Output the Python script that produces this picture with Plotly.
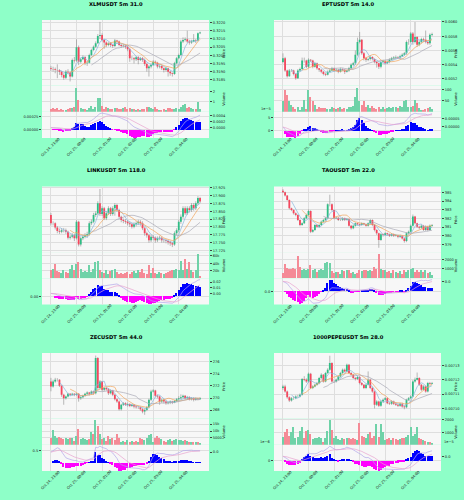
import plotly.graph_objects as go
import pandas as pd
import numpy as np

W, H = 464, 500
FIG_BG = '#8effc8'
PLOT_BG = '#f7f7f7'
GRID = '#dedede'
UP, DOWN = '#2ebd85', '#f6465d'
UP_V, DOWN_V = '#6fd2a8', '#f58a96'
WICK = '#8c8c8c'
MA_COLORS = ['#86b6dc', '#f2a55a', '#a9a9b6']
MACD_COLORS = ['#b3a6ea', '#e8a2cf']
HIST_POS, HIST_NEG = '#0000ff', '#ff00ff'

tick_idx = [0, 12, 24, 36, 48, 60]
tick_text = ["Oct 24, 23:00", "Oct 25, 00:00", "Oct 25, 01:00",
             "Oct 25, 02:00", "Oct 25, 03:00", "Oct 25, 04:00"]
ma_windows = [5, 10, 20]

# ---------------- XLMUSDT ----------------
xlm_title = "XLMUSDT 5m 31.0"
xlm_open0 = 0.31920
xlm_close = [0.31916, 0.31914, 0.31910, 0.31908, 0.31900, 0.31880, 0.31863, 0.31900, 0.31895, 0.31870,
             0.31972, 0.31968, 0.32049, 0.31961, 0.31976, 0.31990, 0.31951, 0.31955, 0.32002, 0.32033,
             0.32053, 0.32074, 0.32118, 0.32125, 0.32094, 0.32078, 0.32063, 0.32074, 0.32063, 0.32057,
             0.32090, 0.32084, 0.32063, 0.32057, 0.32059, 0.32053, 0.32037, 0.31982, 0.31982, 0.31976,
             0.31988, 0.31972, 0.31982, 0.31972, 0.31947, 0.31921, 0.31931, 0.31941, 0.31961, 0.31955,
             0.31931, 0.31935, 0.31921, 0.31910, 0.31921, 0.31900, 0.31890, 0.31886, 0.31951, 0.31982,
             0.32002, 0.32084, 0.32094, 0.32098, 0.32084, 0.32078, 0.32084, 0.32094, 0.32090, 0.32135, 0.32139]
xlm_high = [0.31935, 0.31930, 0.31925, 0.31945, 0.31915, 0.31905, 0.31890, 0.31910, 0.31915, 0.31900,
            0.31980, 0.31990, 0.32098, 0.32060, 0.31985, 0.32000, 0.31995, 0.31965, 0.32010, 0.32040,
            0.32060, 0.32085, 0.32130, 0.32205, 0.32135, 0.32100, 0.32085, 0.32080, 0.32080, 0.32070,
            0.32100, 0.32095, 0.32090, 0.32070, 0.32068, 0.32065, 0.32060, 0.32045, 0.31995, 0.31990,
            0.31995, 0.31995, 0.31990, 0.31990, 0.31980, 0.31955, 0.31940, 0.31950, 0.31970, 0.31968,
            0.31960, 0.31945, 0.31940, 0.31925, 0.31930, 0.31925, 0.31905, 0.31895, 0.31960, 0.31990,
            0.32010, 0.32095, 0.32110, 0.32110, 0.32151, 0.32095, 0.32095, 0.32130, 0.32100, 0.32140, 0.32145]
xlm_low = [0.31905, 0.31900, 0.31890, 0.31860, 0.31880, 0.31865, 0.31850, 0.31855, 0.31885, 0.31840,
           0.31865, 0.31955, 0.31960, 0.31940, 0.31950, 0.31970, 0.31940, 0.31935, 0.31950, 0.31995,
           0.32025, 0.32045, 0.32070, 0.32100, 0.32085, 0.32040, 0.32050, 0.32055, 0.32050, 0.32045,
           0.32050, 0.32070, 0.32055, 0.32045, 0.32048, 0.32040, 0.32025, 0.31960, 0.31970, 0.31950,
           0.31965, 0.31945, 0.31965, 0.31960, 0.31935, 0.31900, 0.31870, 0.31920, 0.31935, 0.31945,
           0.31920, 0.31920, 0.31910, 0.31895, 0.31900, 0.31870, 0.31875, 0.31870, 0.31880, 0.31945,
           0.31975, 0.31995, 0.32075, 0.32085, 0.32075, 0.32065, 0.32070, 0.32080, 0.32075, 0.32085, 0.32130]
xlm_vol = [0.35, 0.4, 0.3, 0.45, 0.25, 0.3, 0.2, 0.25, 0.35, 0.4,
           0.45, 0.5, 2.35, 1.2, 0.4, 0.35, 0.3, 0.25, 0.4, 0.6,
           0.3, 0.5, 1.35, 1.35, 0.6, 0.35, 0.5, 0.4, 0.3, 0.35,
           0.4, 0.45, 0.35, 0.3, 0.4, 0.5, 0.35, 0.45, 0.3, 0.35,
           0.25, 0.3, 0.25, 0.3, 0.35, 0.5, 0.55, 0.4, 0.3, 0.5,
           0.35, 0.25, 0.2, 0.3, 0.25, 0.4, 0.45, 0.3, 0.35, 0.45,
           0.3, 0.55, 0.7, 0.8, 0.4, 0.5, 0.4, 0.35, 0.3, 1.0, 0.3]
xlm_price_ticks = [0.3185, 0.3190, 0.3195, 0.3200, 0.3205, 0.3210, 0.3215, 0.3220]
xlm_price_labels = ["0.3185", "0.3190", "0.3195", "0.3200", "0.3205", "0.3210", "0.3215", "0.3220"]
xlm_price_range = [0.318144, 0.322163]
xlm_vol_ticks = [1, 2]
xlm_vol_range = [0, 2.55]
xlm_hist_ticks = [-0.00025, 0.0, 0.00025]
xlm_hist_labels = ["\u22120.00025", "0.00000", "0.00025"]
xlm_line_ticks = [0.0, 0.0002, 0.0004]
xlm_line_labels = ["0.0000", "0.0002", "0.0004"]

# ---------------- EPTUSDT ----------------
ept_title = "EPTUSDT 5m 14.0"
ept_open0 = 0.00544
ept_close = [0.00549, 0.00532, 0.00524, 0.00532, 0.00532, 0.00527, 0.00521, 0.00532, 0.00534, 0.00546,
             0.00546, 0.00537, 0.00547, 0.00546, 0.00537, 0.00542, 0.00535, 0.00533, 0.00530, 0.00527,
             0.00526, 0.00530, 0.00532, 0.00535, 0.00532, 0.00533, 0.00530, 0.00534, 0.00533, 0.00530,
             0.00532, 0.00535, 0.00540, 0.00542, 0.00554, 0.00572, 0.00575, 0.00556, 0.00549, 0.00547,
             0.00548, 0.00551, 0.00548, 0.00544, 0.00542, 0.00537, 0.00544, 0.00545, 0.00542, 0.00544,
             0.00547, 0.00549, 0.00550, 0.00551, 0.00550, 0.00552, 0.00554, 0.00556, 0.00572, 0.00572,
             0.00584, 0.00572, 0.00579, 0.00568, 0.00572, 0.00576, 0.00575, 0.00572, 0.00570, 0.00582, 0.00583]
ept_high = [0.00556, 0.00551, 0.00533, 0.00534, 0.00534, 0.00533, 0.00528, 0.00534, 0.00536, 0.00550,
            0.00550, 0.00547, 0.00549, 0.00548, 0.00547, 0.00544, 0.00543, 0.00535, 0.00534, 0.00531,
            0.00529, 0.00532, 0.00534, 0.00537, 0.00536, 0.00535, 0.00534, 0.00536, 0.00535, 0.00534,
            0.00533, 0.00537, 0.00542, 0.00544, 0.00560, 0.00578, 0.00586, 0.00576, 0.00558, 0.00551,
            0.00550, 0.00553, 0.00552, 0.00549, 0.00545, 0.00543, 0.00546, 0.00547, 0.00546, 0.00546,
            0.00549, 0.00551, 0.00552, 0.00553, 0.00552, 0.00554, 0.00556, 0.00558, 0.00574, 0.00576,
            0.00586, 0.00586, 0.00600, 0.00580, 0.00574, 0.00578, 0.00578, 0.00588, 0.00574, 0.00584, 0.00585]
ept_low = [0.00542, 0.00530, 0.00522, 0.00523, 0.00530, 0.00525, 0.00519, 0.00520, 0.00530, 0.00532,
           0.00543, 0.00535, 0.00535, 0.00544, 0.00535, 0.00536, 0.00533, 0.00530, 0.00528, 0.00525,
           0.00524, 0.00525, 0.00529, 0.00531, 0.00530, 0.00530, 0.00528, 0.00529, 0.00531, 0.00527,
           0.00529, 0.00530, 0.00534, 0.00538, 0.00540, 0.00552, 0.00570, 0.00554, 0.00546, 0.00544,
           0.00545, 0.00546, 0.00546, 0.00542, 0.00536, 0.00534, 0.00535, 0.00542, 0.00540, 0.00541,
           0.00542, 0.00546, 0.00547, 0.00548, 0.00548, 0.00548, 0.00551, 0.00553, 0.00554, 0.00568,
           0.00570, 0.00568, 0.00570, 0.00565, 0.00566, 0.00570, 0.00572, 0.00570, 0.00568, 0.00568, 0.00580]
ept_vol = [50, 97, 77, 50, 34, 22, 16, 22, 11, 22,
           55, 16, 97, 66, 50, 34, 16, 22, 19, 20,
           19, 16, 16, 22, 19, 16, 19, 22, 16, 19,
           16, 22, 22, 27, 66, 109, 50, 34, 50, 22,
           31, 19, 27, 19, 16, 22, 16, 22, 16, 19,
           22, 19, 22, 22, 19, 27, 22, 50, 56, 22,
           22, 27, 56, 42, 19, 11, 11, 16, 19, 22, 16]
ept_price_ticks = [0.0052, 0.0054, 0.0056, 0.0058, 0.0060]
ept_price_labels = ["0.0052", "0.0054", "0.0056", "0.0058", "0.0060"]
ept_price_range = [0.005107, 0.006028]
ept_vol_ticks = [50, 100]
ept_vol_range = [0, 117]
ept_hist_ticks = [-0.00005, 0.0, 0.00005]
ept_hist_labels = ["\u22125", "0", "5"]
ept_line_ticks = [0.0, 0.00005, 0.0001]
ept_line_labels = ["0.00000", "0.00005", "0.00010"]

# ---------------- LINKUSDT ----------------
link_title = "LINKUSDT 5m 118.0"
link_open0 = 17.838
link_close = [17.812, 17.812, 17.798, 17.787, 17.785, 17.790, 17.790, 17.785, 17.766, 17.769,
              17.774, 17.764, 17.817, 17.744, 17.764, 17.769, 17.774, 17.777, 17.812, 17.817,
              17.838, 17.843, 17.876, 17.841, 17.860, 17.828, 17.844, 17.860, 17.841, 17.860,
              17.870, 17.854, 17.833, 17.822, 17.819, 17.817, 17.812, 17.809, 17.801, 17.809,
              17.812, 17.817, 17.812, 17.796, 17.780, 17.774, 17.758, 17.769, 17.766, 17.758,
              17.764, 17.766, 17.758, 17.758, 17.755, 17.751, 17.748, 17.744, 17.780, 17.790,
              17.817, 17.833, 17.860, 17.844, 17.860, 17.854, 17.870, 17.860, 17.876, 17.892, 17.881]
link_high = [17.845, 17.818, 17.815, 17.803, 17.795, 17.796, 17.797, 17.795, 17.788, 17.775,
             17.780, 17.778, 17.822, 17.820, 17.770, 17.775, 17.780, 17.785, 17.818, 17.824,
             17.845, 17.850, 17.882, 17.921, 17.866, 17.864, 17.850, 17.866, 17.864, 17.866,
             17.876, 17.874, 17.858, 17.836, 17.827, 17.825, 17.822, 17.818, 17.814, 17.815,
             17.818, 17.823, 17.822, 17.818, 17.800, 17.785, 17.778, 17.775, 17.774, 17.770,
             17.770, 17.772, 17.770, 17.764, 17.762, 17.760, 17.756, 17.752, 17.786, 17.796,
             17.823, 17.840, 17.866, 17.866, 17.866, 17.866, 17.876, 17.876, 17.882, 17.898, 17.896]
link_low = [17.805, 17.805, 17.792, 17.780, 17.778, 17.780, 17.783, 17.778, 17.760, 17.760,
            17.764, 17.755, 17.760, 17.738, 17.738, 17.758, 17.764, 17.768, 17.772, 17.806,
            17.812, 17.832, 17.838, 17.835, 17.835, 17.822, 17.822, 17.838, 17.835, 17.836,
            17.836, 17.848, 17.826, 17.815, 17.812, 17.810, 17.805, 17.800, 17.795, 17.796,
            17.802, 17.806, 17.804, 17.790, 17.772, 17.766, 17.750, 17.752, 17.758, 17.750,
            17.752, 17.758, 17.750, 17.750, 17.748, 17.744, 17.740, 17.736, 17.740, 17.774,
            17.784, 17.810, 17.826, 17.838, 17.838, 17.846, 17.848, 17.852, 17.854, 17.870, 17.876]
link_vol = [21000, 25500, 39000, 18000, 16000, 14500, 21000, 16000, 14500, 25500,
            34500, 21000, 39000, 43500, 25500, 16000, 18000, 16000, 34500, 16000,
            25500, 42000, 45500, 21000, 16000, 14500, 21000, 12000, 18000, 21000,
            23500, 16000, 12000, 14500, 12000, 14500, 16000, 12000, 16000, 18000,
            14500, 21000, 16000, 25500, 14500, 12000, 34500, 14500, 27000, 14500,
            12000, 16000, 14500, 12000, 14500, 16000, 18000, 21000, 21000, 23500,
            21000, 45500, 21000, 52500, 25500, 42000, 21000, 16000, 21000, 64500, 5500]
link_price_ticks = [17.725, 17.750, 17.775, 17.800, 17.825, 17.850, 17.875, 17.900, 17.925]
link_price_labels = ["17.725", "17.750", "17.775", "17.800", "17.825", "17.850", "17.875", "17.900", "17.925"]
link_price_range = [17.720, 17.929]
link_vol_ticks = [20000, 40000, 60000]
link_vol_range = [0, 70000]
link_hist_ticks = [-0.02, 0.0, 0.02]
link_hist_labels = ["\u22120.02", "0.00", "0.02"]
link_line_ticks = [0.0, 0.01, 0.02]
link_line_labels = ["0.00", "0.01", "0.02"]

# ---------------- TAOUSDT ----------------
tao_title = "TAOUSDT 5m 22.0"
tao_open0 = 385.20
tao_close = [385.04, 384.65, 384.15, 383.18, 382.98, 382.60, 382.40, 381.82, 381.24, 381.43,
             382.02, 382.40, 382.87, 380.47, 380.66, 381.24, 381.05, 381.24, 381.63, 381.82,
             382.02, 383.64, 383.64, 382.98, 382.02, 382.09, 381.82, 381.82, 382.02, 381.82,
             381.94, 381.16, 380.85, 381.16, 381.43, 381.32, 381.24, 381.43, 381.32, 381.16,
             381.43, 381.82, 381.24, 380.66, 380.27, 379.50, 380.16, 380.08, 380.27, 380.16,
             380.00, 380.16, 380.00, 380.08, 379.88, 380.00, 379.69, 379.38, 380.27, 380.47,
             381.16, 382.21, 381.43, 381.05, 380.93, 381.16, 380.66, 381.05, 380.66, 381.16, 381.24]
tao_high = [385.40, 385.10, 384.70, 384.20, 383.25, 383.05, 382.70, 382.50, 381.90, 381.55,
            382.15, 382.55, 383.05, 382.95, 380.80, 381.35, 381.35, 381.35, 381.75, 381.95,
            382.15, 383.75, 384.75, 383.75, 383.05, 382.20, 382.15, 381.95, 382.15, 382.10,
            382.05, 382.00, 381.25, 381.30, 381.55, 381.50, 381.40, 381.55, 381.50, 381.40,
            381.55, 381.95, 381.90, 381.35, 380.75, 380.35, 380.30, 380.25, 380.40, 380.35,
            380.25, 380.30, 380.25, 380.20, 380.15, 380.10, 380.05, 379.75, 380.40, 380.60,
            381.30, 382.45, 382.30, 381.50, 381.15, 381.30, 381.25, 381.20, 381.15, 381.30, 381.35]
tao_low = [384.95, 384.55, 384.05, 383.05, 382.85, 382.45, 382.25, 381.70, 381.10, 381.15,
           381.35, 381.90, 382.30, 380.30, 380.35, 380.55, 380.95, 380.95, 381.10, 381.55,
           381.70, 381.90, 383.40, 382.85, 381.90, 381.90, 381.70, 381.70, 381.70, 381.70,
           381.75, 381.05, 380.70, 380.75, 381.05, 381.20, 381.10, 381.15, 381.20, 381.05,
           381.05, 381.30, 381.10, 380.50, 380.10, 378.60, 379.40, 379.90, 379.95, 380.00,
           379.85, 379.90, 379.85, 379.90, 379.70, 379.75, 379.55, 379.20, 379.25, 380.10,
           380.35, 381.05, 381.30, 380.90, 380.75, 380.80, 380.55, 380.55, 380.50, 380.55, 381.05]
tao_vol = [570, 1540, 1070, 1000, 930, 1070, 1000, 2320, 1180, 820,
           930, 820, 930, 1430, 820, 1000, 640, 820, 1000, 820,
           1640, 1710, 1640, 710, 570, 640, 640, 460, 820, 710,
           820, 820, 570, 640, 460, 570, 820, 710, 820, 820,
           710, 820, 710, 1180, 1000, 2570, 1000, 820, 820, 640,
           710, 570, 820, 640, 570, 710, 460, 820, 640, 820,
           930, 1070, 640, 820, 640, 820, 640, 820, 570, 640, 290]
tao_price_ticks = [379, 380, 381, 382, 383, 384, 385]
tao_price_labels = ["379", "380", "381", "382", "383", "384", "385"]
tao_price_range = [378.10, 385.70]
tao_vol_ticks = [1000, 2000]
tao_vol_range = [0, 2750]
tao_hist_ticks = [-0.5, 0.0, 0.5]
tao_hist_labels = ["\u22120.5", "0.0", "0.5"]
tao_line_ticks = [0.0, 0.5]
tao_line_labels = ["0.0", "0.5"]

# ---------------- ZECUSDT ----------------
zec_title = "ZECUSDT 5m 44.0"
zec_open0 = 272.71
zec_close = [271.89, 272.71, 272.99, 272.99, 272.00, 270.52, 269.97, 270.25, 270.68, 270.52,
             270.68, 270.52, 270.68, 269.97, 270.14, 270.36, 270.68, 270.90, 270.68, 271.07,
             270.79, 276.55, 271.62, 272.71, 271.34, 271.62, 271.45, 270.79, 271.23, 270.52,
             269.81, 269.42, 268.16, 268.88, 269.15, 268.88, 269.04, 268.71, 268.88, 268.60,
             268.49, 268.49, 268.16, 267.78, 268.05, 268.49, 269.70, 271.07, 271.23, 270.36,
             270.25, 269.42, 269.70, 269.42, 269.15, 269.26, 269.42, 269.26, 269.53, 269.81,
             269.97, 270.14, 270.36, 269.97, 270.14, 269.81, 269.97, 269.70, 269.92, 269.81, 269.97]
zec_high = [273.30, 273.00, 273.30, 273.25, 273.10, 272.10, 270.70, 270.40, 270.85, 270.80,
            270.85, 270.80, 270.85, 270.80, 270.30, 270.55, 270.85, 271.10, 271.00, 271.25,
            271.20, 276.95, 276.70, 272.95, 272.80, 271.85, 271.75, 271.60, 271.40, 271.35,
            270.70, 269.95, 269.60, 269.05, 269.35, 269.30, 269.25, 269.15, 269.05, 268.95,
            268.75, 268.70, 268.60, 268.35, 268.25, 268.70, 269.90, 271.35, 271.45, 271.35,
            270.55, 270.40, 269.90, 269.85, 269.60, 269.45, 269.60, 269.55, 269.70, 270.00,
            270.30, 270.60, 270.55, 270.50, 270.35, 270.30, 270.15, 270.15, 270.10, 270.05, 270.15]
zec_low = [271.10, 271.70, 272.50, 272.70, 271.80, 270.20, 268.90, 269.75, 270.10, 270.30,
           270.40, 270.30, 270.35, 269.40, 269.70, 269.95, 270.20, 270.55, 270.40, 270.50,
           270.55, 270.60, 271.30, 271.40, 271.10, 271.10, 271.20, 270.50, 270.60, 270.30,
           269.60, 269.20, 267.95, 267.95, 268.70, 268.70, 268.60, 268.50, 268.55, 268.30,
           268.25, 268.20, 267.90, 267.50, 267.25, 267.85, 268.30, 269.50, 270.90, 270.10,
           269.95, 268.90, 269.20, 269.10, 268.90, 268.95, 269.00, 269.00, 269.15, 269.35,
           269.60, 269.80, 270.00, 269.75, 269.75, 269.60, 269.60, 269.45, 269.55, 269.60, 269.70]
zec_vol = [5500, 11000, 6750, 5500, 6000, 5000, 4250, 5000, 4250, 5000,
           5500, 3000, 6750, 11750, 4250, 5000, 4250, 3500, 4250, 9250,
           8000, 18000, 14250, 8000, 4250, 5000, 3000, 6750, 4250, 5000,
           3500, 8000, 5000, 2500, 3000, 2500, 3500, 2500, 3000, 2500,
           3000, 2500, 5500, 4250, 3500, 5000, 7500, 8000, 2500, 5000,
           6750, 5000, 4250, 3000, 2500, 3500, 4250, 3000, 3500, 4250,
           3500, 3500, 3000, 4000, 3000, 2500, 2500, 2500, 2500, 2000, 1750]
zec_price_ticks = [268, 270, 272, 274, 276]
zec_price_labels = ["268", "270", "272", "274", "276"]
zec_price_range = [266.63, 277.37]
zec_vol_ticks = [5000, 10000, 15000]
zec_vol_range = [0, 19000]
zec_hist_ticks = [-0.5, 0.5]
zec_hist_labels = ["\u22120.5", "0.5"]
zec_line_ticks = [0.0, 0.5, 1.0]
zec_line_labels = ["0.0", "0.5", "1.0"]

# ---------------- 1000PEPEUSDT ----------------
pepe_title = "1000PEPEUSDT 5m 28.0"
pepe_open0 = 0.0071142
pepe_close = [0.0071154, 0.0071119, 0.0071079, 0.0071056, 0.0071072, 0.0071072, 0.0071084, 0.0071084, 0.0071095, 0.0071205,
              0.0071200, 0.0071188, 0.0071242, 0.0071142, 0.0071154, 0.0071165, 0.0071177, 0.0071212, 0.0071235, 0.0071188,
              0.0071247, 0.0071270, 0.0071316, 0.0071188, 0.0071188, 0.0071200, 0.0071223, 0.0071247, 0.0071270, 0.0071258,
              0.0071305, 0.0071247, 0.0071235, 0.0071212, 0.0071205, 0.0071219, 0.0071177, 0.0071165, 0.0071142, 0.0071165,
              0.0071200, 0.0071142, 0.0071119, 0.0071026, 0.0071049, 0.0071019, 0.0071049, 0.0071061, 0.0071072, 0.0071037,
              0.0071033, 0.0071049, 0.0071033, 0.0071026, 0.0071019, 0.0071033, 0.0071014, 0.0071009, 0.0071061, 0.0071072,
              0.0071084, 0.0071188, 0.0071200, 0.0071212, 0.0071165, 0.0071130, 0.0071154, 0.0071119, 0.0071177, 0.0071172, 0.0071177]
pepe_high = [0.0071165, 0.0071165, 0.0071125, 0.0071085, 0.0071080, 0.0071085, 0.0071092, 0.0071095, 0.0071105, 0.0071212,
             0.0071225, 0.0071210, 0.0071250, 0.0071248, 0.0071162, 0.0071172, 0.0071185, 0.0071220, 0.0071245, 0.0071240,
             0.0071255, 0.0071280, 0.0071367, 0.0071322, 0.0071198, 0.0071208, 0.0071230, 0.0071255, 0.0071278, 0.0071278,
             0.0071312, 0.0071310, 0.0071255, 0.0071240, 0.0071220, 0.0071228, 0.0071225, 0.0071185, 0.0071170, 0.0071172,
             0.0071258, 0.0071208, 0.0071150, 0.0071125, 0.0071058, 0.0071055, 0.0071058, 0.0071070, 0.0071080, 0.0071078,
             0.0071045, 0.0071058, 0.0071055, 0.0071040, 0.0071032, 0.0071040, 0.0071040, 0.0071020, 0.0071068, 0.0071080,
             0.0071092, 0.0071198, 0.0071215, 0.0071250, 0.0071218, 0.0071172, 0.0071162, 0.0071160, 0.0071185, 0.0071185, 0.0071185]
pepe_low = [0.0071130, 0.0071110, 0.0071068, 0.0071045, 0.0071048, 0.0071060, 0.0071065, 0.0071075, 0.0071078, 0.0071090,
            0.0071190, 0.0071178, 0.0071180, 0.0071135, 0.0071135, 0.0071148, 0.0071158, 0.0071170, 0.0071205, 0.0071180,
            0.0071182, 0.0071240, 0.0071262, 0.0071180, 0.0071178, 0.0071180, 0.0071195, 0.0071215, 0.0071240, 0.0071250,
            0.0071252, 0.0071240, 0.0071228, 0.0071205, 0.0071195, 0.0071198, 0.0071168, 0.0071158, 0.0071135, 0.0071135,
            0.0071160, 0.0071135, 0.0071110, 0.0071000, 0.0071018, 0.0071010, 0.0071012, 0.0071042, 0.0071055, 0.0071030,
            0.0071025, 0.0071025, 0.0071025, 0.0071018, 0.0071010, 0.0071012, 0.0071005, 0.0070995, 0.0071002, 0.0071055,
            0.0071065, 0.0071078, 0.0071180, 0.0071195, 0.0071158, 0.0071122, 0.0071125, 0.0071110, 0.0071112, 0.0071165, 0.0071168]
pepe_vol = [670, 1030, 1310, 750, 1030, 1500, 610, 670, 1170, 1500,
            610, 1170, 1220, 890, 470, 610, 560, 670, 610, 280,
            560, 1170, 2000, 1220, 610, 750, 470, 390, 560, 470,
            560, 560, 470, 610, 470, 390, 1780, 750, 670, 610,
            940, 1030, 610, 750, 1670, 670, 1670, 1030, 390, 470,
            610, 390, 560, 470, 390, 470, 610, 560, 670, 830,
            1500, 750, 940, 1500, 610, 470, 390, 330, 280, 280, 190]
pepe_price_ticks = [0.00710, 0.00711, 0.00712, 0.00713]
pepe_price_labels = ["0.00710", "0.00711", "0.00712", "0.00713"]
pepe_price_range = [0.0070930, 0.0071386]
pepe_vol_ticks = [1000, 2000]
pepe_vol_range = [0, 2110]
pepe_hist_ticks = [-0.000005, 0.0, 0.000005]
pepe_hist_labels = ["\u22125", "0", "5"]
pepe_line_ticks = [-0.00001, 0.0]
pepe_line_labels = ["\u22121.0", "0.0"]

panels = [
    dict(title=xlm_title, open0=xlm_open0, close=xlm_close, high=xlm_high, low=xlm_low, vol=xlm_vol,
         pt=xlm_price_ticks, pl=xlm_price_labels, pr=xlm_price_range, vt=xlm_vol_ticks, vr=xlm_vol_range,
         ht=xlm_hist_ticks, hl=xlm_hist_labels, lt=xlm_line_ticks, ll=xlm_line_labels, hexp='', lexp=''),
    dict(title=ept_title, open0=ept_open0, close=ept_close, high=ept_high, low=ept_low, vol=ept_vol,
         pt=ept_price_ticks, pl=ept_price_labels, pr=ept_price_range, vt=ept_vol_ticks, vr=ept_vol_range,
         ht=ept_hist_ticks, hl=ept_hist_labels, lt=ept_line_ticks, ll=ept_line_labels, hexp='1e\u22125', lexp=''),
    dict(title=link_title, open0=link_open0, close=link_close, high=link_high, low=link_low, vol=link_vol,
         pt=link_price_ticks, pl=link_price_labels, pr=link_price_range, vt=link_vol_ticks, vr=link_vol_range,
         ht=link_hist_ticks, hl=link_hist_labels, lt=link_line_ticks, ll=link_line_labels, hexp='', lexp=''),
    dict(title=tao_title, open0=tao_open0, close=tao_close, high=tao_high, low=tao_low, vol=tao_vol,
         pt=tao_price_ticks, pl=tao_price_labels, pr=tao_price_range, vt=tao_vol_ticks, vr=tao_vol_range,
         ht=tao_hist_ticks, hl=tao_hist_labels, lt=tao_line_ticks, ll=tao_line_labels, hexp='', lexp=''),
    dict(title=zec_title, open0=zec_open0, close=zec_close, high=zec_high, low=zec_low, vol=zec_vol,
         pt=zec_price_ticks, pl=zec_price_labels, pr=zec_price_range, vt=zec_vol_ticks, vr=zec_vol_range,
         ht=zec_hist_ticks, hl=zec_hist_labels, lt=zec_line_ticks, ll=zec_line_labels, hexp='', lexp=''),
    dict(title=pepe_title, open0=pepe_open0, close=pepe_close, high=pepe_high, low=pepe_low, vol=pepe_vol,
         pt=pepe_price_ticks, pl=pepe_price_labels, pr=pepe_price_range, vt=pepe_vol_ticks, vr=pepe_vol_range,
         ht=pepe_hist_ticks, hl=pepe_hist_labels, lt=pepe_line_ticks, ll=pepe_line_labels,
         hexp='1e\u22126', lexp='1e\u22125'),
]

# ---------------- layout geometry (pixels) ----------------
COL_X = [(42, 209), (274, 441)]
ROW_TOP = [20, 186.5, 353]
TITLE_Y = [4, 170, 336.5]
TITLE_X = [116, 348]
MAIN_H, VOL_H, MACD_H = 65.6, 26.2, 26.2
X_RANGE = [-4.2, 74.2]
HIST_ZERO_FRAC = [0.33, 0.28, 0.30, 0.50, 0.32, 0.39]
FONT = 'DejaVu Sans'
TF = 3.6


def ydom(t0, t1):
    return [1 - t1 / H, 1 - t0 / H]


def xname(i):
    return 'x' if i == 1 else 'x%d' % i


def yname(i):
    return 'y' if i == 1 else 'y%d' % i


fig = go.Figure()
lay = dict(width=W, height=H, margin=dict(l=0, r=0, t=0, b=0), paper_bgcolor=FIG_BG,
           plot_bgcolor=PLOT_BG, showlegend=False, font=dict(family=FONT, size=TF, color='#222222'),
           bargap=0)
ann = []

for k, p in enumerate(panels):
    col, row = k % 2, k // 2
    x0, x1 = COL_X[col]
    top = ROW_TOP[row]
    xd = [x0 / W, x1 / W]
    xi = [3 * k + 1, 3 * k + 2, 3 * k + 3]
    yi = [4 * k + 1, 4 * k + 2, 4 * k + 3, 4 * k + 4]
    c = np.array(p['close'], dtype=float)
    o = np.concatenate([[p['open0']], c[:-1]])
    h = np.array(p['high'], dtype=float)
    l = np.array(p['low'], dtype=float)
    n = len(c)
    idx = np.arange(n)
    up = c >= o

    # wicks
    wx, wy = [], []
    for i in range(n):
        wx += [i, i, None]
        wy += [l[i], h[i], None]
    fig.add_trace(go.Scatter(x=wx, y=wy, mode='lines', line=dict(color=WICK, width=0.6),
                             xaxis=xname(xi[0]), yaxis=yname(yi[0]), hoverinfo='skip'))
    # bodies
    for mask, colr in ((up, UP), (~up, DOWN)):
        bx, by = [], []
        for i in idx[mask]:
            bx += [i, i, None]
            by += [o[i], c[i], None]
        fig.add_trace(go.Scatter(x=bx, y=by, mode='lines', line=dict(color=colr, width=1.8),
                                 xaxis=xname(xi[0]), yaxis=yname(yi[0]), hoverinfo='skip'))
    # moving averages
    cs = pd.Series(c)
    for w, mc in zip(ma_windows, MA_COLORS):
        ma = cs.rolling(w).mean()
        fig.add_trace(go.Scatter(x=idx, y=[None if np.isnan(v) else v for v in ma], mode='lines',
                                 line=dict(color=mc, width=0.7), xaxis=xname(xi[0]), yaxis=yname(yi[0])))
    # volume
    fig.add_trace(go.Bar(x=idx, y=p['vol'], width=0.7,
                         marker=dict(color=[UP_V if u else DOWN_V for u in up], line=dict(width=0)),
                         xaxis=xname(xi[1]), yaxis=yname(yi[1])))
    # MACD
    e12 = cs.ewm(span=12, adjust=False).mean()
    e26 = cs.ewm(span=26, adjust=False).mean()
    macd = e12 - e26
    sig = macd.ewm(span=9, adjust=False).mean()
    hist = macd - sig
    fig.add_trace(go.Bar(x=idx, y=hist, width=0.7,
                         marker=dict(color=[HIST_POS if v >= 0 else HIST_NEG for v in hist], line=dict(width=0)),
                         xaxis=xname(xi[2]), yaxis=yname(yi[2])))
    for ser, mc in zip((macd, sig), MACD_COLORS):
        fig.add_trace(go.Scatter(x=idx, y=ser, mode='lines', line=dict(color=mc, width=0.7),
                                 xaxis=xname(xi[2]), yaxis=yname(yi[3])))
    # histogram axis range: zero line placed as in the reference panel
    z = HIST_ZERO_FRAC[k]
    hmax = max(float(hist.max()), 1e-18)
    hmin = min(float(hist.min()), -1e-18)
    span = max(hmax / (1 - z), -hmin / z) * 1.04
    hrange = [-z * span, (1 - z) * span]

    doms = [ydom(top, top + MAIN_H), ydom(top + MAIN_H, top + MAIN_H + VOL_H),
            ydom(top + MAIN_H + VOL_H, top + MAIN_H + VOL_H + MACD_H)]
    for j in range(3):
        lay['xaxis%d' % xi[j]] = dict(domain=xd, range=X_RANGE, anchor=yname(yi[j]),
                                      tickvals=tick_idx, showticklabels=False, ticks='',
                                      showgrid=True, gridcolor=GRID, gridwidth=0.5, zeroline=False,
                                      showline=False, fixedrange=True)
    axbase = dict(showgrid=True, gridcolor=GRID, gridwidth=0.5, zeroline=False, showline=False,
                  ticks='outside', ticklen=2, tickwidth=0.5, tickcolor='#444', tickfont=dict(size=TF),
                  fixedrange=True)
    lay['yaxis%d' % yi[0]] = dict(axbase, domain=doms[0], anchor=xname(xi[0]), side='right',
                                  range=p['pr'], tickvals=p['pt'], ticktext=p['pl'])
    lay['yaxis%d' % yi[1]] = dict(axbase, domain=doms[1], anchor=xname(xi[1]), side='right',
                                  range=p['vr'], tickvals=p['vt'])
    lay['yaxis%d' % yi[2]] = dict(axbase, domain=doms[2], anchor=xname(xi[2]), side='left',
                                  range=hrange, tickvals=p['ht'], ticktext=p['hl'])
    lay['yaxis%d' % yi[3]] = dict(axbase, overlaying=yname(yi[2]), anchor=xname(xi[2]), side='right',
                                  showgrid=False, tickvals=p['lt'], ticktext=p['ll'])

    # title
    ann.append(dict(text='<b>%s</b>' % p['title'], x=TITLE_X[col] / W, y=1 - TITLE_Y[row] / H,
                    xref='paper', yref='paper', showarrow=False, font=dict(size=5.2, color='#000'),
                    xanchor='center', yanchor='middle'))
    # axis labels
    lx = (x1 + 15) / W
    ann.append(dict(text='Price', x=lx, y=1 - (top + MAIN_H / 2) / H, xref='paper', yref='paper',
                    showarrow=False, textangle=-90, font=dict(size=TF), xanchor='center', yanchor='middle'))
    ann.append(dict(text='Volume', x=lx, y=1 - (top + MAIN_H + VOL_H / 2) / H, xref='paper', yref='paper',
                    showarrow=False, textangle=-90, font=dict(size=TF), xanchor='center', yanchor='middle'))
    mtop = top + MAIN_H + VOL_H
    if p['hexp']:
        ann.append(dict(text=p['hexp'], x=(x0 - 1) / W, y=1 - (mtop - 2.5) / H, xref='paper', yref='paper',
                        showarrow=False, font=dict(size=TF), xanchor='right', yanchor='middle'))
    if p['lexp']:
        ann.append(dict(text=p['lexp'], x=(x1 + 1) / W, y=1 - (mtop - 2.5) / H, xref='paper', yref='paper',
                        showarrow=False, font=dict(size=TF), xanchor='left', yanchor='middle'))
    # x tick labels (rotated)
    bottom = mtop + MACD_H
    for tv, tt in zip(tick_idx, tick_text):
        ann.append(dict(text=tt, x=tv, y=1 - (bottom + 9) / H, xref=xname(xi[2]), yref='paper',
                        showarrow=False, textangle=-45, font=dict(size=TF), xanchor='center',
                        yanchor='middle'))

lay['annotations'] = ann
fig.update_layout(**lay)
fig.write_html("out.html")
